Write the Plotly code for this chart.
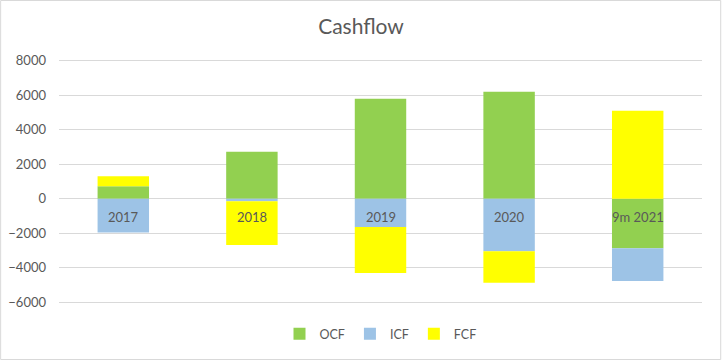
import plotly.graph_objects as go

categories = ["2017", "2018", "2019", "2020", "9m 2021"]
ocf = [730, 2730, 5790, 6200, -2870]
icf = [-1960, -140, -1640, -3045, -1890]
fcf = [570, -2540, -2660, -1830, 5100]
y_ticks = [-6000, -4000, -2000, 0, 2000, 4000, 6000, 8000]

colors = {"OCF": "#92D050", "ICF": "#9DC3E6", "FCF": "#FFFF00"}
font_family = "Lato, 'Open Sans', sans-serif"
txt = "#595959"

fig = go.Figure()
for name, vals in [("OCF", ocf), ("ICF", icf), ("FCF", fcf)]:
    fig.add_trace(go.Bar(x=categories, y=vals, name=name,
                         marker=dict(color=colors[name], line=dict(width=0))))

# category labels sit on the zero line (category index positions)
for i, c in enumerate(categories):
    fig.add_annotation(x=i, y=0, xref="x", yref="y", text=c, showarrow=False,
                       yanchor="middle", yshift=-18,
                       font=dict(size=13, color=txt, family=font_family))

fig.update_layout(
    width=722, height=360,
    barmode="relative", bargap=0.6,
    paper_bgcolor="white", plot_bgcolor="white",
    margin=dict(l=59, r=20, t=59, b=56, autoexpand=False),
    title=dict(text="Cashflow", x=0.5, xanchor="center", y=0.927, yanchor="middle",
               font=dict(size=21, color=txt, family=font_family)),
    font=dict(family=font_family, color=txt, size=12),
    legend=dict(orientation="h", x=0.5, xanchor="center",
                yref="container", y=26 / 360, yanchor="middle",
                traceorder="normal", font=dict(size=12.5, color=txt), itemwidth=30),
    showlegend=True,
)
fig.update_xaxes(type="category", range=[-0.5, len(categories) - 0.5],
                 showticklabels=False, showgrid=False, automargin=False,
                 zeroline=False, showline=False)
fig.update_yaxes(range=[-6100, 8100], tickvals=y_ticks, tickformat="d",
                 automargin=False,
                 showgrid=True, gridcolor="#D9D9D9", gridwidth=1,
                 zeroline=True, zerolinecolor="#D9D9D9", zerolinewidth=1,
                 showline=False, ticks="", ticklabelstandoff=12,
                 tickfont=dict(size=13, color=txt))
fig.add_shape(type="rect", xref="paper", yref="paper",
              x0=-59 / 643 + 0.001, x1=1 + 20 / 643 - 0.002,
              y0=-56 / 245 + 0.002, y1=1 + 59 / 245 - 0.002,
              line=dict(color="#D9D9D9", width=1), fillcolor="rgba(0,0,0,0)", layer="below")

fig.write_html("out.html", config={"displayModeBar": False},
               post_script="document.body.style.margin='0';")
